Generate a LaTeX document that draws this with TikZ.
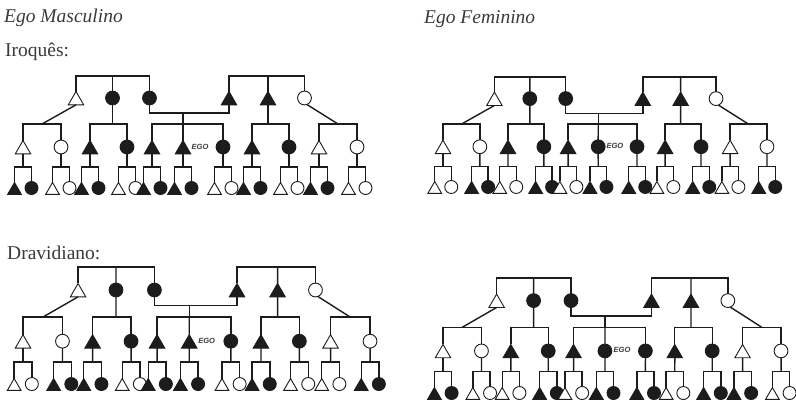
\documentclass[tikz,border=0pt]{standalone}
\usepackage{fontspec}
\setmainfont{Liberation Serif}
\setsansfont{Liberation Sans}
\usetikzlibrary{shapes.geometric}

\definecolor{ink}{HTML}{1C1C1C}
\definecolor{txt}{HTML}{3A3A3A}

\tikzset{
  link/.style={draw=ink, line width=1.4pt},
  person/.style={draw=ink, line width=0.9pt, inner sep=0pt, outer sep=0pt},
  male/.style={person, regular polygon, regular polygon sides=3, minimum size=17.8pt, yshift=-2.4pt},
  female/.style={person, circle, minimum size=13.8pt},
  mfill/.style={male, fill=ink},
  mopen/.style={male, fill=white},
  ffill/.style={female, fill=ink},
  fopen/.style={female, fill=white},
  kidson/.style={minimum size=15.8pt},
  kiddaughter/.style={minimum size=13pt},
  egotag/.style={font=\sffamily\bfseries\itshape\fontsize{7.5}{9}\selectfont, text=txt, inner sep=0pt, anchor=west},
  heading/.style={font=\fontsize{19.5}{23}\selectfont, text=txt, inner sep=0pt, anchor=base west},
}

% two children (son, daughter) of one parent, hung from a short bar
\newcommand\kidpair[3]{%
  \node[m#3, kidson] (#1-s) at ({#2-8.5},112) {};
  \node[f#3, kiddaughter] (#1-d) at ({#2+8.5},112) {};
  \coordinate (#1-k) at (#2,91);
  \draw[link] (#1) -- (#1-k);
  \draw[link] (#1-s.north) |- (#1-k) -| (#1-d.north);
}

% three generations: #1 name prefix, #2 ego's style, #3 fill pattern of the children pairs
\newcommand\kinpanel[3]{%
  % parents and their siblings
  \node[mopen] (#1mb) at (53,22) {};
  \node[ffill] (#1mz) at (89.5,22) {};
  \node[ffill] (#1m)  at (126.5,22) {};
  \node[mfill] (#1f)  at (206,22) {};
  \node[mfill] (#1fb) at (245,22) {};
  \node[fopen] (#1fz) at (281.5,22) {};
  \coordinate (#1mtop) at (89.5,0);
  \coordinate (#1ftop) at (245,0);
  \draw[link] (#1mb.north) |- (#1mtop) -| (#1m.north);
  \draw[link] (#1mz) -- (#1mtop);
  \draw[link] (#1f.north) |- (#1ftop) -| (#1fz.north);
  \draw[link] (#1fb) -- (#1ftop);
  \coordinate (#1wed) at (160,37);
  \draw[link] (#1m.south) |- (#1wed) -| (#1f.south);
  % ego and cousins
  \node[mopen] (#1mbs) at (0,71) {};
  \node[fopen] (#1mbd) at (38,71) {};
  \node[mfill] (#1mzs) at (67,71) {};
  \node[ffill] (#1mzd) at (104,71) {};
  \node[mfill] (#1b)   at (129,71) {};
  \node[#2]    (#1ego) at (160,71) {};
  \node[ffill] (#1z)   at (200,71) {};
  \node[mfill] (#1fbs) at (229,71) {};
  \node[ffill] (#1fbd) at (266,71) {};
  \node[mopen] (#1fzs) at (296,71) {};
  \node[fopen] (#1fzd) at (334,71) {};
  \coordinate (#1mbk) at (19,48);
  \coordinate (#1mzk) at (89.5,48);
  \coordinate (#1sib) at (160,48);
  \coordinate (#1fbk) at (245,48);
  \coordinate (#1fzk) at (315,48);
  \draw[link] (#1mb.south) -- (#1mbk);
  \draw[link] (#1mbs.north) |- (#1mbk) -| (#1mbd.north);
  \draw[link] (#1mz) -- (#1mzk);
  \draw[link] (#1mzs.north) |- (#1mzk) -| (#1mzd.north);
  \draw[link] (#1wed) -- (#1sib);
  \draw[link] (#1b.north) |- (#1sib) -| (#1z.north);
  \draw[link] (#1ego) -- (#1sib);
  \draw[link] (#1fb) -- (#1fbk);
  \draw[link] (#1fbs.north) |- (#1fbk) -| (#1fbd.north);
  \draw[link] (#1fz.-70) -- (#1fzk);
  \draw[link] (#1fzs.north) |- (#1fzk) -| (#1fzd.north);
  \node[egotag] (#1egotag) at (168.5,70.5) {EGO};
  % next generation down
  \foreach \n/\x [count=\i from 0] in {mbs/0,mbd/38,mzs/67,mzd/104,b/129,ego/160,z/200,fbs/229,fbd/266,fzs/296,fzd/334}{%
    \pgfmathtruncatemacro\kp{{#3}[\i]}%
    \ifnum\kp=1 \kidpair{#1\n}{\x}{fill}\else\kidpair{#1\n}{\x}{open}\fi
  }%
}

\begin{document}
\begin{tikzpicture}[x=1pt, y=-1pt]
  \fill[white] (0,0) rectangle (796,400);
  \useasboundingbox (0,0) rectangle (796,400);

  \node[heading] (hmasc) at (4,22) {\itshape Ego Masculino};
  \node[heading] (hfem)  at (424,23.5) {\itshape Ego Feminino};
  \node[heading] (hiro)  at (5,56.5) {Iroquês:};
  \node[heading] (hdrav) at (7,259) {Dravidiano:};

  \begin{scope}[shift={(23,76)}]
    \kinpanel{pa}{mfill}{1,0,1,0,1,1,0,1,0,1,0}
  \end{scope}
  \begin{scope}[shift={(443,77)}, xscale=0.97, yscale=0.982]
    \kinpanel{pb}{ffill}{0,1,0,1,0,1,1,0,1,0,1}
  \end{scope}
  \begin{scope}[shift={(23,267)}, xscale=1.039, yscale=1.045]
    \kinpanel{pc}{mfill}{0,1,1,0,1,1,0,1,0,0,1}
  \end{scope}
  \begin{scope}[shift={(443,278)}, xscale=1.012, yscale=1.027]
    \kinpanel{pd}{ffill}{1,0,0,1,0,1,1,0,1,1,0}
  \end{scope}
\end{tikzpicture}
\end{document}
